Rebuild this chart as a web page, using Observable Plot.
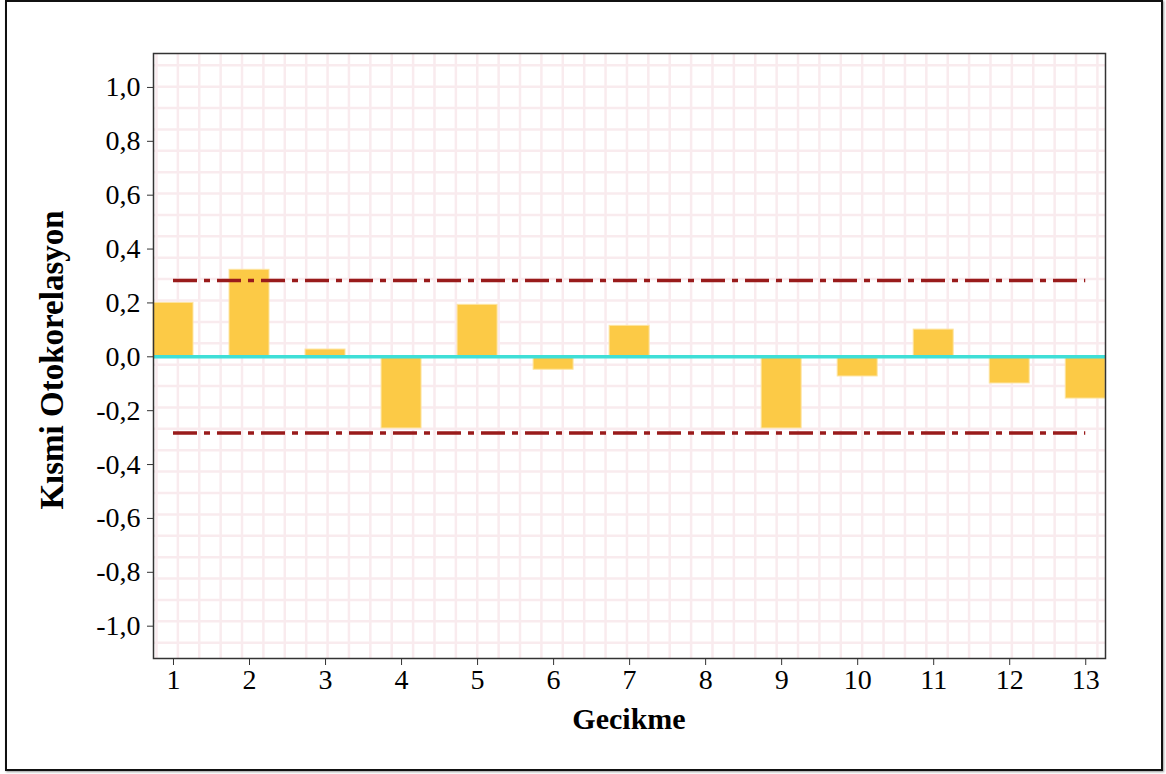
<!DOCTYPE html>
<html><head><meta charset="utf-8">
<script src="https://cdn.jsdelivr.net/npm/d3@7"></script>
<script src="https://cdn.jsdelivr.net/npm/@observablehq/plot@0.6"></script>
<style>
body{margin:0;background:#fff}
#wrap{position:relative;width:1166px;height:774px}
#border{position:absolute;left:5px;top:0;width:1154px;height:767px;border:2px solid #111;box-shadow:1px 1px 2px #999;pointer-events:none}
</style>
</head><body>
<div id="wrap"><div id="border"></div></div>
<script>
// Data
const lags = [1, 2, 3, 4, 5, 6, 7, 8, 9, 10, 11, 12, 13];
const pacf = [0.200, 0.323, 0.027, -0.266, 0.193, -0.048, 0.115, 0, -0.266, -0.073, 0.101, -0.099, -0.155];
const confLimit = 0.283;
const yTicks = [-1.0, -0.8, -0.6, -0.4, -0.2, 0.0, 0.2, 0.4, 0.6, 0.8, 1.0];
const xLabel = "Gecikme";
const yLabel = "Kısmi Otokorelasyon";

const rows = lags.map((lag, i) => ({lag, v: pacf[i]}));
const halfW = 0.263;
const gridY = d3.range(-1, 27).map(k => 1.003 - 0.0794 * k);
const gridX = d3.range(0, 45).map(k => 0.7763 + 0.2813 * k);

const chart = Plot.plot({
  width: 1166, height: 774,
  marginLeft: 153, marginRight: 61, marginTop: 53, marginBottom: 116,
  style: {fontFamily: "'Liberation Serif', 'Times New Roman', serif", fontSize: "28px", background: "transparent", color: "#000"},
  x: {domain: [0.737, 13.26], label: null},
  y: {domain: [-1.12, 1.126], label: null},
  marks: [
    Plot.ruleY(gridY, {stroke: "#f9ebee", strokeWidth: 2.5}),
    Plot.ruleX(gridX, {stroke: "#f9ebee", strokeWidth: 2.5}),
    Plot.rect(rows, {x1: d => d.lag - halfW, x2: d => d.lag + halfW, y1: 0, y2: "v", fill: "#fcca46", stroke: "#fde4a2", strokeWidth: 1}),
    Plot.ruleY([0], {stroke: "#3fdfd7", strokeWidth: 3.5}),
    Plot.ruleY([confLimit, -confLimit], {x1: lags[0], x2: lags[lags.length - 1], stroke: "#991b1b", strokeWidth: 3.5, strokeDasharray: "24,7,6,7"}),
    Plot.frame({stroke: "#333", strokeWidth: 1.5}),
    Plot.axisX({ticks: lags, tickFormat: d => String(d), tickSize: 7, tickPadding: 4, fontSize: 28, label: null, stroke: "#333"}),
    Plot.axisY({ticks: yTicks, tickFormat: d => d.toFixed(1).replace(".", ","), tickSize: 6, tickPadding: 7, fontSize: 28, label: null, stroke: "#333"})
  ]
});

const svg = d3.select(chart);
svg.append("text")
  .attr("x", 629).attr("y", 729)
  .attr("text-anchor", "middle")
  .attr("font-family", "'Liberation Serif', 'Times New Roman', serif")
  .attr("font-weight", "bold").attr("font-size", 30).attr("fill", "#000")
  .text(xLabel);
svg.append("text")
  .attr("transform", "translate(63,360) rotate(-90)")
  .attr("text-anchor", "middle")
  .attr("font-family", "'Liberation Serif', 'Times New Roman', serif")
  .attr("font-weight", "bold").attr("font-size", 33).attr("fill", "#000")
  .text(yLabel);

document.getElementById("wrap").prepend(chart);
chart.style.position = "absolute";
chart.style.left = "0";
chart.style.top = "0";
</script>
</body></html>
